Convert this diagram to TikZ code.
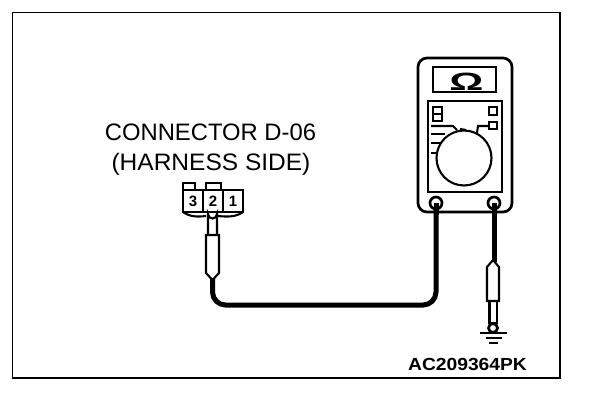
\documentclass[tikz,border=0pt]{standalone}
\usepackage{fontspec}
\setmainfont{Liberation Sans}
\begin{document}
\begin{tikzpicture}[x=1pt,y=-1pt,
  thin line/.style={draw=black,line width=2.1pt},
  outer line/.style={draw=black,line width=2.7pt},
  med line/.style={draw=black,line width=2.4pt},
  wire/.style={draw=black,line width=5pt},
  lbl/.style={font=\fontsize{23.8}{26}\selectfont,inner sep=0pt,anchor=base,transform shape},
  digit/.style={font=\bfseries\fontsize{15}{15}\selectfont,inner sep=0pt}]
\useasboundingbox (0,0) rectangle (608,400);
\fill[white] (0,0) rectangle (608,400);
\draw[draw=black,line width=1.7pt] (12.5,12.5) rectangle (560,378);
% labels
\node[lbl] (title1) at (210.5,140.5) {CONNECTOR D-06};
\node[lbl,xscale=1.03] (title2) at (211,170.5) {(HARNESS SIDE)};
\node[font=\bfseries\fontsize{17.5}{20}\selectfont,inner sep=0pt,anchor=base,transform shape,xscale=1.1] (code) at (467.5,370) {AC209364PK};
% wires
\draw[wire,rounded corners=13pt] (212.5,278) -- (212.5,305) -- (436,305) -- (436,204);
\draw[wire] (494,204) -- (494,262);
% meter
\draw[outer line,rounded corners=9pt] (418,58) rectangle (512,212);
\draw[thin line] (433,67) rectangle (496,92);
\node[font=\bfseries\fontsize{25}{25}\selectfont,inner sep=0pt,anchor=base,transform shape,xscale=1.7] (omega) at (466.5,90) {Ω};
\draw[thin line] (428,101) rectangle (502,192);
\draw[thin line,fill=white] (464,158) circle (27.5);
\draw[thin line] (433,107) rectangle (442,114);
\draw[thin line] (433,114) rectangle (442,121);
\draw[thin line] (489,107) rectangle (497,115);
\draw[thin line] (489,122) rectangle (497,129);
\draw[thin line] (431,126) -- (453,126) -- (457,130);
\draw[thin line] (431,134) -- (445,134);
\draw[thin line] (431,143) -- (441,143);
\draw[thin line] (431,153) -- (437,153);
\draw[thin line] (477,133) -- (478,126) -- (488,126);
\draw[thin line] (460,129) -- (466,130);
\draw[outer line,fill=white] (436,203) circle (6);
\draw[outer line,fill=white] (494,203) circle (6);
\fill[black] (433.5,215) rectangle (438.5,203);
\fill[black] (491.5,215) rectangle (496.5,203);
% connector
\draw[thin line] (183,190) -- (183,183) -- (195,183) -- (195,190);
\draw[thin line] (206,190) -- (206,183) -- (221,183) -- (221,190);
\draw[thin line] (183,190) rectangle (243,212);
\draw[thin line] (203,190) -- (203,212);
\draw[thin line] (223,190) -- (223,212);
\draw[thin line] (183,212) .. controls (190,217) and (198,217) .. (206,216);
\draw[thin line] (218,216) .. controls (228,217) and (236,217) .. (243,212);
\node[digit] (n3) at (193,201) {3};
\node[digit] (n2) at (213,201) {2};
\node[digit] (n1) at (233,201) {1};
% left probe
\draw[thin line,fill=white] (208,235) -- (208,214) arc (180:0:4.5) -- (217,235);
\draw[thin line,fill=white] (206,235) -- (219,235) -- (219,273) -- (212.5,280) -- (206,273) -- cycle;
% right probe
\draw[thin line,fill=white] (489.5,301) -- (489.5,323) -- (497,323) -- (497,301);
\draw[thin line,fill=white] (487,301) -- (487,267) -- (493,260) -- (499,267) -- (499,301) -- cycle;
\draw[outer line,fill=white] (493,328) circle (4.5);
\draw[med line] (480,333) -- (507,333);
\draw[med line] (486,338) -- (502,338);
\draw[med line] (489,343) -- (498,343);
\end{tikzpicture}
\end{document}
